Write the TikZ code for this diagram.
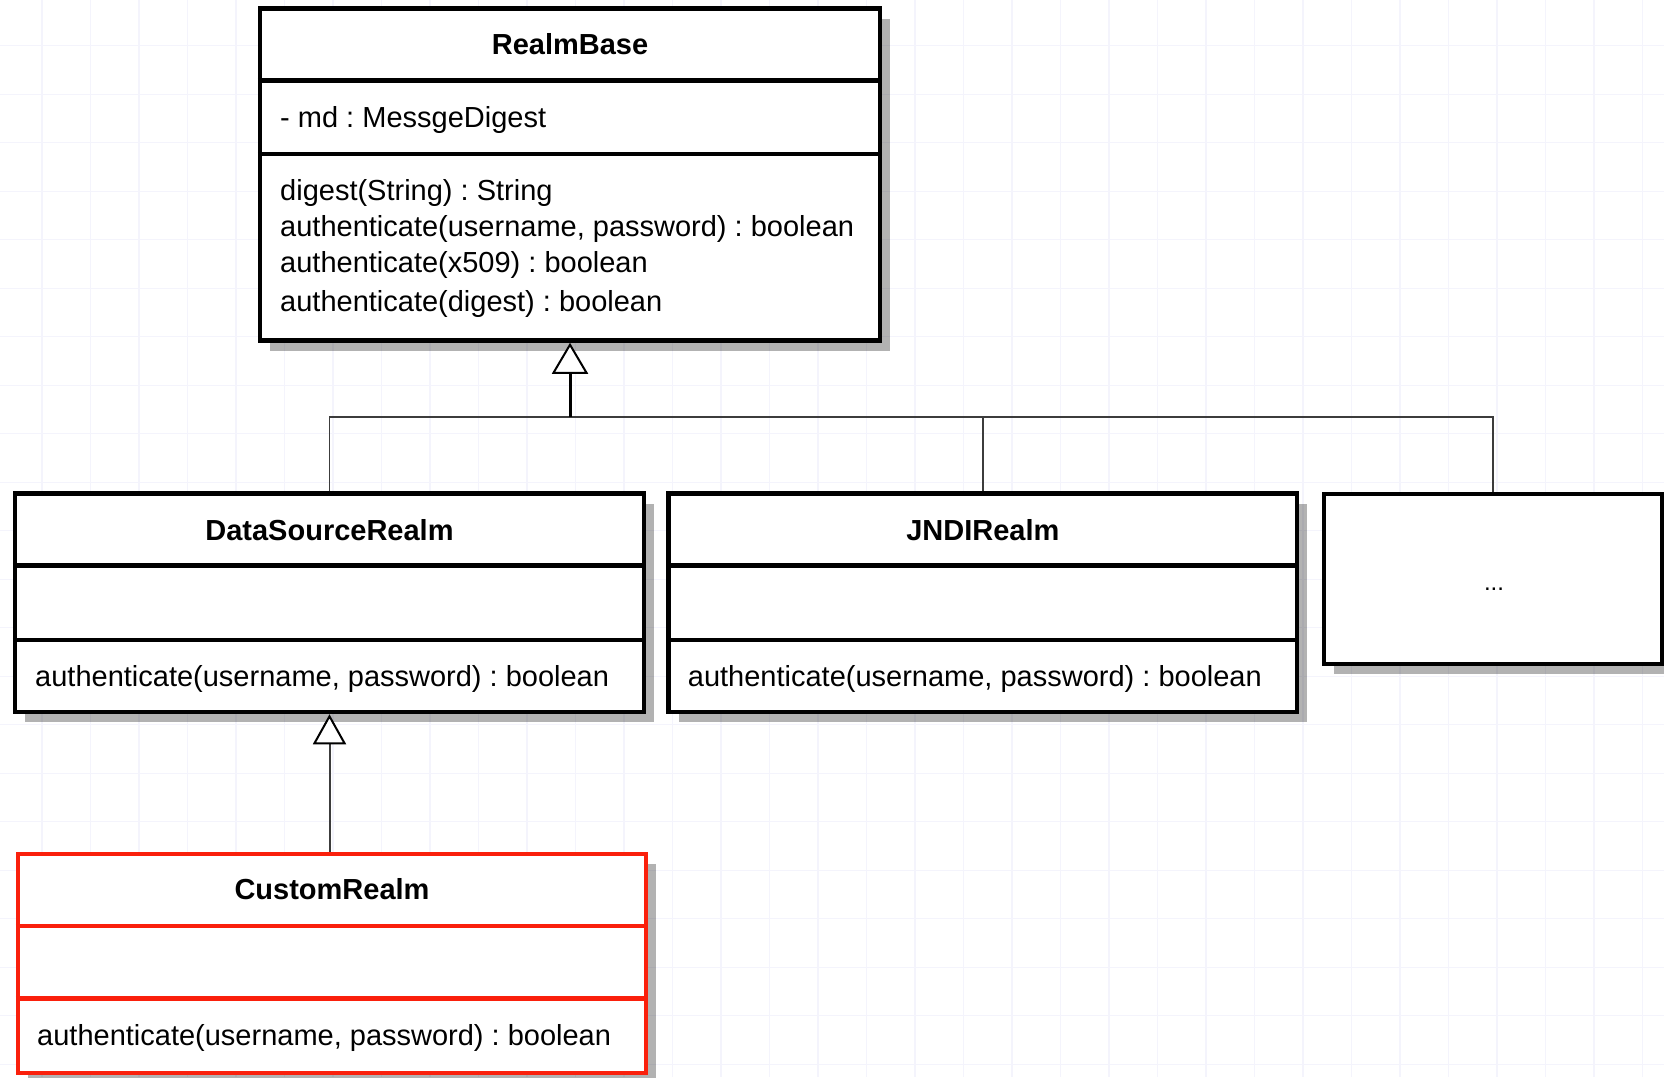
\documentclass[tikz,border=0pt]{standalone}
\usepackage{fontspec}
\setmainfont{Liberation Sans}
\usetikzlibrary{arrows.meta,shadows}
\definecolor{gridc}{RGB}{244,244,252}
\definecolor{umlred}{RGB}{250,32,12}
\definecolor{linkc}{RGB}{60,60,60}
\newcommand\umlfont{\fontsize{29}{35}\selectfont}
\tikzset{
  gridline/.style={draw=gridc, line width=1.2pt},
  clsbox/.style={draw=black, line width=4.5pt, fill=white, inner sep=0pt,
    drop shadow={shadow xshift=10pt, shadow yshift=-10pt, fill=black, opacity=0.3}},
  redbox/.style={clsbox, draw=umlred},
  divline/.style={draw=black, line width=4.5pt},
  reddiv/.style={draw=umlred, line width=4.5pt},
  title/.style={font=\umlfont\bfseries, inner sep=0pt, text height=21pt, text depth=0pt, anchor=center},
  member/.style={inner sep=0pt, text height=21pt, text depth=0pt, anchor=west},
  branch/.style={draw=linkc, line width=1.6pt},
  stem/.style={draw=black, line width=3pt, -{Triangle[length=31pt, width=36pt, fill=white, line width=2pt]}},
  substem/.style={draw=linkc, line width=2pt, -{Triangle[length=30pt, width=33pt, fill=white, line width=2pt, color=black]}}
}
\begin{document}
\frenchspacing
\begin{tikzpicture}[x=1pt, y=-1pt, font=\umlfont]
\useasboundingbox (0,0) rectangle (1664,1077);
\fill[white] (0,0) rectangle (1664,1077);
% background grid
\foreach \i in {0,...,33} \draw[gridline] ({42+48.5*\i},0) -- ({42+48.5*\i},1077);
\foreach \i in {0,...,21} \draw[gridline] (0,{45.7+48.5*\i}) -- (1664,{45.7+48.5*\i});

% RealmBase
\node[clsbox, minimum width=620pt, minimum height=332pt] (rb) at (570,174.5) {};
\draw[divline] (rb.west |- 0,80.7) -- (rb.east |- 0,80.7);
\draw[divline] (rb.west |- 0,153.9) -- (rb.east |- 0,153.9);
\node[title] (rbt) at (570,44) {RealmBase};
\node[member] (rba) at (280,117) {- md : MessgeDigest};
\node[member] (rbm1) at (280,190) {digest(String) : String};
\node[member] (rbm2) at (280,226) {authenticate(username, password) : boolean};
\node[member] (rbm3) at (280,262) {authenticate(x509) : boolean};
\node[member] (rbm4) at (280,301) {authenticate(digest) : boolean};

% DataSourceRealm
\node[clsbox, minimum width=629pt, minimum height=218.5pt] (dsr) at (329.5,602.75) {};
\draw[divline] (dsr.west |- 0,565.6) -- (dsr.east |- 0,565.6);
\draw[divline] (dsr.west |- 0,640) -- (dsr.east |- 0,640);
\node[title] (dsrt) at (329.5,529.5) {DataSourceRealm};
\node[member] (dsrm) at (35,676) {authenticate(username, password) : boolean};

% JNDIRealm
\node[clsbox, minimum width=628.4pt, minimum height=218.5pt] (jndi) at (982.8,602.75) {};
\draw[divline] (jndi.west |- 0,565.6) -- (jndi.east |- 0,565.6);
\draw[divline] (jndi.west |- 0,640) -- (jndi.east |- 0,640);
\node[title] (jndit) at (982.8,529.5) {JNDIRealm};
\node[member] (jndim) at (687.7,676) {authenticate(username, password) : boolean};

% ... box
\node[clsbox, minimum width=338pt, minimum height=170pt] (more) at (1493,579) {};
\node[inner sep=0pt, font=\fontsize{24}{28}\selectfont] (moret) at (1494,589) {...};

% CustomRealm
\node[redbox, minimum width=628pt, minimum height=219pt] (cr) at (332,963.5) {};
\draw[reddiv] (cr.west |- 0,926) -- (cr.east |- 0,926);
\draw[reddiv] (cr.west |- 0,998.5) -- (cr.east |- 0,998.5);
\node[title] (crt) at (332,889.3) {CustomRealm};
\node[member] (crm) at (37,1034.7) {authenticate(username, password) : boolean};

% generalisation connectors
\coordinate (j) at (570,417);
\draw[branch] (dsr.north) |- (j);
\draw[branch] (jndi.north) |- (j);
\draw[branch] (more.north) |- (j);
\draw[stem] (j) -- (rb.south);
\draw[substem] (cr.north -| dsr.south) -- (dsr.south);
\end{tikzpicture}
\end{document}
